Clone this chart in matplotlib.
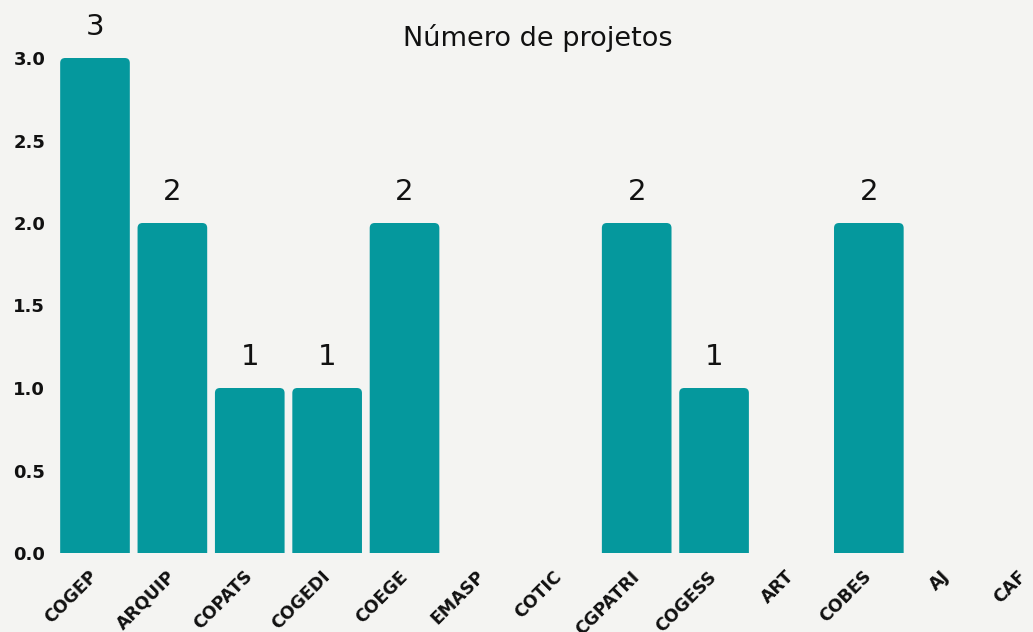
import matplotlib
matplotlib.use("Agg")
import matplotlib.pyplot as plt
from matplotlib.patches import FancyBboxPatch

# Projects per unit
categories = ["COGEP", "ARQUIP", "COPATS", "COGEDI", "COEGE", "EMASP", "COTIC",
              "CGPATRI", "COGESS", "ART", "COBES", "AJ", "CAF"]
projects = [3, 2, 1, 1, 2, 0, 0, 2, 1, 0, 2, 0, 0]
y_ticks = [0.0, 0.5, 1.0, 1.5, 2.0, 2.5, 3.0]
title = "Número de projetos"

BAR_COLOR = "#05989d"
BG_COLOR = "#f4f4f2"
W, H = 1033, 632

fig = plt.figure(figsize=(W / 100, H / 100), dpi=100, facecolor=BG_COLOR)
ax = fig.add_axes([56.3 / W, 79 / H, 1006 / W, 495 / H])
ax.set_facecolor(BG_COLOR)

x = list(range(len(categories)))
bars = ax.bar(x, projects, width=0.9, color=BAR_COLOR)
ax.set_xlim(-0.5, len(categories) - 0.5)
ax.set_ylim(0, 3.0)

# Replace the square bars with top-rounded ones (bottom corners sit below y=0 and get clipped)
px_per_x = 1006 / (len(categories))
px_per_y = 495 / 3.0
aspect = (1 / px_per_y) / (1 / px_per_x)
radius = 5 / px_per_x
for rect in bars:
    h = rect.get_height()
    rect.set_visible(False)
    if h <= 0:
        continue
    patch = FancyBboxPatch((rect.get_x(), -0.1), rect.get_width(), h + 0.1,
                           boxstyle=f"round,pad=0,rounding_size={radius}",
                           mutation_aspect=aspect, facecolor=BAR_COLOR,
                           edgecolor="none")
    ax.add_patch(patch)
    ax.annotate(f"{h:g}", (rect.get_x() + rect.get_width() / 2, h),
                xytext=(0, 16.5), textcoords="offset points",
                ha="center", va="baseline", fontsize=21, color="#111111",
                annotation_clip=False)

for s in ax.spines.values():
    s.set_visible(False)

ax.set_yticks(y_ticks)
ax.set_yticklabels([f"{v:.1f}" for v in y_ticks], fontsize=13,
                   fontweight="bold", color="#111111")
ax.set_xticks(x)
ax.set_xticklabels(categories, fontsize=12.5, fontweight="bold", color="#111111",
                   rotation=45, ha="right", va="center", rotation_mode="anchor")
ax.tick_params(axis="both", length=0)
ax.tick_params(axis="y", pad=8)
ax.tick_params(axis="x", pad=15)

fig.text(538 / W, 1 - 38 / H, title, ha="center", va="center",
         fontsize=19.5, color="#111111")

fig.savefig("out.png", dpi=100, facecolor=BG_COLOR)
